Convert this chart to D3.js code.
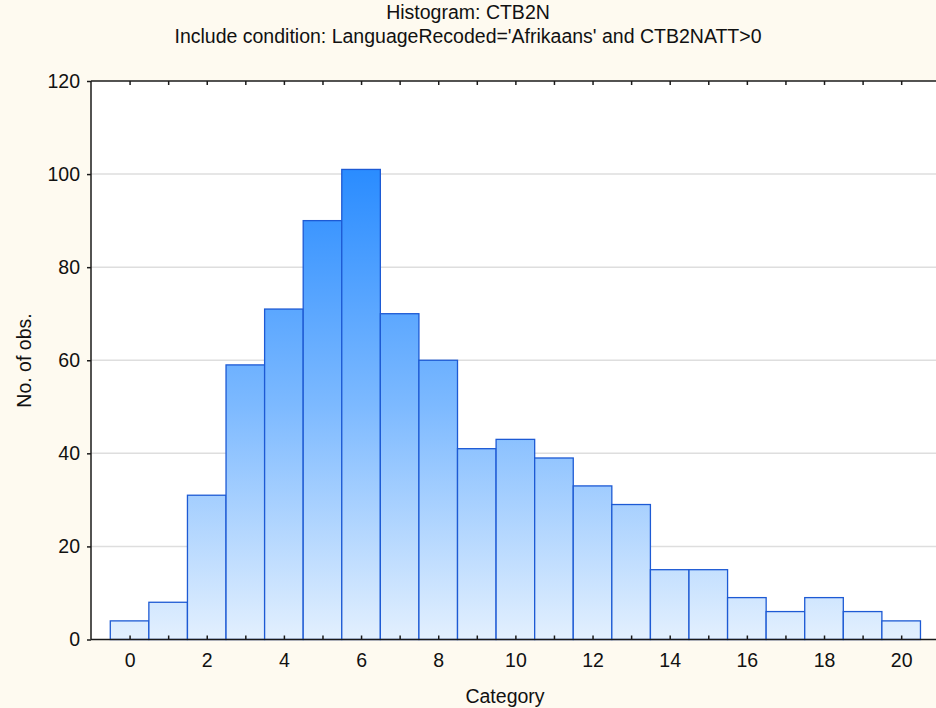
<!DOCTYPE html>
<html><head><meta charset="utf-8">
<script src="https://cdn.jsdelivr.net/npm/d3@7"></script>
<style>html,body{margin:0;padding:0;background:#FEFAF0;}svg{display:block;}</style>
</head><body>
<script>
const categories = [0,1,2,3,4,5,6,7,8,9,10,11,12,13,14,15,16,17,18,19,20];
const counts = [4,8,31,59,71,90,101,70,60,41,43,39,33,29,15,15,9,6,9,6,4];
const xTickLabels = [0,2,4,6,8,10,12,14,16,18,20];
const yTickLabels = [0,20,40,60,80,100,120];
const titleText = "Histogram: CTB2N";
const subtitleText = "Include condition: LanguageRecoded='Afrikaans' and CTB2NATT>0";
const xLabel = "Category";
const yLabel = "No. of obs.";

(function () {
const W = 936, H = 708;
const padL = 91, padT = 81, padB = 639.5;
const FS = "19.5px";
const FF = "'Liberation Sans', Arial, sans-serif";
const svg = d3.select("body").append("svg").attr("width", W).attr("height", H)
  .style("font-family", FF);
svg.append("rect").attr("width", W).attr("height", H).attr("fill", "#FEFAF0");

const x = d3.scaleLinear().domain([-1, 21]).range([padL, padL + 22 * 38.58]);
const y = d3.scaleLinear().domain([0, 120]).range([padB, padT]);

svg.append("rect").attr("x", padL).attr("y", padT).attr("width", W - padL).attr("height", padB - padT).attr("fill", "#fff");

const defs = svg.append("defs");
const grad = defs.append("linearGradient").attr("id", "g").attr("gradientUnits", "userSpaceOnUse")
  .attr("x1", 0).attr("x2", 0).attr("y1", y(101)).attr("y2", y(0));
grad.append("stop").attr("offset", "0%").attr("stop-color", "#2A8CFF");
grad.append("stop").attr("offset", "50%").attr("stop-color", "#7CB9FF");
grad.append("stop").attr("offset", "100%").attr("stop-color", "#E3F0FE");

svg.append("g").selectAll("line").data(yTickLabels.filter(v => v > 0 && v < 120)).join("line")
  .attr("x1", padL).attr("x2", W).attr("y1", d => y(d)).attr("y2", d => y(d))
  .attr("stroke", "#DEDEDE").attr("stroke-width", 1.5);

svg.append("g").selectAll("rect").data(categories).join("rect")
  .attr("x", (d) => x(d - 0.5)).attr("width", x(1) - x(0))
  .attr("y", (d, i) => y(counts[i])).attr("height", (d, i) => y(0) - y(counts[i]))
  .attr("fill", "url(#g)").attr("stroke", "#1D5AD4").attr("stroke-width", 1.3);

const axisColor = "#1a1a1a";
const yAxis = svg.append("g").attr("transform", `translate(${padL},0)`)
  .call(d3.axisLeft(y).tickValues(yTickLabels).tickSize(4).tickPadding(7));
const xAxisB = svg.append("g").attr("transform", `translate(0,${padB})`)
  .call(d3.axisBottom(x).tickValues(xTickLabels).tickSize(0).tickPadding(14));
const xTicksB = svg.append("g").attr("transform", `translate(0,${padB})`)
  .call(d3.axisTop(x).tickValues(categories).tickSize(4).tickFormat(""));
const xTicksT = svg.append("g").attr("transform", `translate(0,${padT})`)
  .call(d3.axisBottom(x).tickValues(categories).tickSize(4).tickFormat(""));
[yAxis, xAxisB, xTicksB, xTicksT].forEach(g => {
  g.select(".domain").remove();
  g.selectAll("line").attr("stroke", axisColor).attr("stroke-width", 1.5);
  g.selectAll("text").attr("fill", "#111").style("font-size", FS).style("font-family", FF);
});
svg.append("line").attr("x1", padL).attr("x2", padL).attr("y1", padT).attr("y2", padB).attr("stroke", axisColor).attr("stroke-width", 1.5);
svg.append("line").attr("x1", padL).attr("x2", W).attr("y1", padT).attr("y2", padT).attr("stroke", axisColor).attr("stroke-width", 1.5);
svg.append("line").attr("x1", padL).attr("x2", W).attr("y1", padB).attr("y2", padB).attr("stroke", axisColor).attr("stroke-width", 1.5);

svg.append("text").attr("x", W / 2).attr("y", 19).attr("text-anchor", "middle").style("font-size", FS).attr("fill", "#111").text(titleText);
svg.append("text").attr("x", W / 2).attr("y", 43).attr("text-anchor", "middle").style("font-size", FS).attr("fill", "#111").text(subtitleText);
svg.append("text").attr("x", 505).attr("y", 703).attr("text-anchor", "middle").style("font-size", FS).attr("fill", "#111").text(xLabel);
svg.append("text").attr("transform", "translate(31,360.5) rotate(-90)").attr("text-anchor", "middle").style("font-size", FS).attr("fill", "#111").text(yLabel);
})();
</script>
</body></html>
